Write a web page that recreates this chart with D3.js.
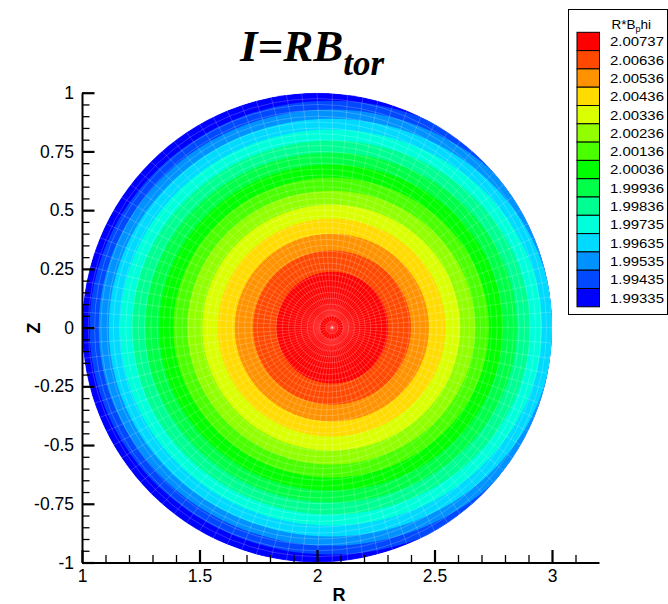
<!DOCTYPE html>
<html>
<head>
<meta charset="utf-8">
<script src="https://cdn.jsdelivr.net/npm/d3@7"></script>
<style>
  html, body { margin: 0; padding: 0; background: #ffffff; }
  svg { display: block; }
  text { font-family: "Liberation Sans", Arial, sans-serif; }
</style>
</head>
<body>
<script>
// Contour levels of R*B_phi, highest first (legend order)
const levels = [2.00737, 2.00636, 2.00536, 2.00436, 2.00336, 2.00236, 2.00136,
                2.00036, 1.99936, 1.99836, 1.99735, 1.99635, 1.99535, 1.99435, 1.99335];

// Iso-contour geometry for levels[0..13]: centre (R) and half extents in R and Z
const contourCenterR   = [2.065, 2.064, 2.063, 2.062, 2.061, 2.060, 2.060,
                          2.060, 2.060, 2.060, 2.060, 2.059, 2.058, 2.058];
const contourHalfWidth = [0.238, 0.336, 0.413, 0.485, 0.549, 0.613, 0.672,
                          0.732, 0.791, 0.847, 0.898, 0.945, 0.987, 1.026];
const contourHalfHeight = [0.238, 0.328, 0.400, 0.464, 0.524, 0.583, 0.639,
                           0.694, 0.745, 0.796, 0.843, 0.889, 0.928, 0.966];

// Circular poloidal cross-section
const sectionR = [1, 3];
const sectionZ = [-1, 1];
const magneticAxisR = 2.065;

// Axis ticks
const xMajorTicks = [1, 1.5, 2, 2.5, 3];
const xTickLabels = ["1", "1.5", "2", "2.5", "3"];
const yMajorTicks = [-1, -0.75, -0.5, -0.25, 0, 0.25, 0.5, 0.75, 1];
const yTickLabels = ["-1", "-0.75", "-0.5", "-0.25", "0", "0.25", "0.5", "0.75", "1"];

const W = 668, H = 604;
const svg = d3.select("body").append("svg").attr("width", W).attr("height", H);

const x = d3.scaleLinear().domain([1, 3.2]).range([82, 599]);
const y = d3.scaleLinear().domain([-1, 1]).range([562.5, 92.7]);

// Rainbow colour map: blue - cyan - green - yellow - red
const vMin = d3.min(levels), vMax = d3.max(levels);
const color = d3.scaleLinear()
  .domain([0, 0.25, 0.5, 0.75, 1].map(t => vMin + t * (vMax - vMin)))
  .range(["#0000ff", "#00ffff", "#00ff00", "#ffff00", "#ff0000"])
  .interpolate(d3.interpolateRgb);

// Section outline used as clip region
const secCR = (sectionR[0] + sectionR[1]) / 2;
const secR = (sectionR[1] - sectionR[0]) / 2;
const secZ = (sectionZ[1] - sectionZ[0]) / 2;
const defs = svg.append("defs");
defs.append("clipPath").attr("id", "section")
  .append("ellipse")
  .attr("cx", x(secCR)).attr("cy", y(0))
  .attr("rx", x(secCR + secR) - x(secCR)).attr("ry", y(0) - y(secZ));

const plot = svg.append("g").attr("clip-path", "url(#section)");

// Lowest band fills the whole section
plot.append("ellipse")
  .attr("cx", x(secCR)).attr("cy", y(0))
  .attr("rx", x(secCR + secR) - x(secCR)).attr("ry", y(0) - y(secZ))
  .attr("fill", color(levels[levels.length - 1]));

// Flooded bands, outermost contour first
const bands = d3.range(contourHalfWidth.length).reverse();
plot.selectAll("ellipse.band").data(bands).join("ellipse")
  .attr("class", "band")
  .attr("cx", i => x(contourCenterR[i]))
  .attr("cy", y(0))
  .attr("rx", i => x(contourCenterR[i] + contourHalfWidth[i]) - x(contourCenterR[i]))
  .attr("ry", i => y(0) - y(contourHalfHeight[i]))
  .attr("fill", i => color(levels[i]));

// Computational mesh: shifted rings from the magnetic axis to the wall, and spokes
const meshRings = 40, meshSpokes = 96;
const ringCenter = s => secCR + (magneticAxisR - secCR) * (1 - s);
const mesh = plot.append("g")
  .attr("fill", "none").attr("stroke", "#ffffff")
  .attr("stroke-opacity", 0.28).attr("stroke-width", 0.7);
mesh.selectAll("ellipse").data(d3.range(1, meshRings + 1).map(j => j / meshRings)).join("ellipse")
  .attr("cx", s => x(ringCenter(s))).attr("cy", y(0))
  .attr("rx", s => x(ringCenter(s) + s * secR) - x(ringCenter(s)))
  .attr("ry", s => y(0) - y(s * secZ));
const s0 = 2 / meshRings;
mesh.selectAll("line").data(d3.range(meshSpokes).map(k => 2 * Math.PI * k / meshSpokes)).join("line")
  .attr("x1", t => x(ringCenter(s0) + s0 * secR * Math.cos(t)))
  .attr("y1", t => y(s0 * secZ * Math.sin(t)))
  .attr("x2", t => x(secCR + secR * Math.cos(t)))
  .attr("y2", t => y(secZ * Math.sin(t)));
// inner spokes near the axis are coarser
mesh.selectAll("line.inner").data(d3.range(0, meshSpokes, 4).map(k => 2 * Math.PI * k / meshSpokes)).join("line")
  .attr("class", "inner")
  .attr("x1", x(magneticAxisR)).attr("y1", y(0))
  .attr("x2", t => x(ringCenter(s0) + s0 * secR * Math.cos(t)))
  .attr("y2", t => y(s0 * secZ * Math.sin(t)));

// Axes
function styleAxis(g, w) {
  g.select(".domain").attr("stroke", "#000").attr("stroke-width", 2);
  g.selectAll(".tick line").attr("stroke", "#000").attr("stroke-width", w);
  g.selectAll(".tick text").attr("fill", "#000")
    .style("font-family", "'Liberation Sans', Arial, sans-serif").style("font-size", "17.5px");
}
const xMinor = d3.range(11, 32).map(v => v / 10).filter(v => !xMajorTicks.some(m => Math.abs(m - v) < 1e-9));
const yMinor = d3.range(-20, 21).map(v => v / 20).filter(v => !yMajorTicks.some(m => Math.abs(m - v) < 1e-9));

const gxm = svg.append("g").attr("transform", `translate(0,${y(-1)})`)
  .call(d3.axisBottom(x).tickValues(xMinor).tickSize(-7.5).tickSizeOuter(0).tickFormat(""));
gxm.select(".domain").remove();
styleAxis(gxm, 1.3);
const gym = svg.append("g").attr("transform", `translate(${x(1)},0)`)
  .call(d3.axisLeft(y).tickValues(yMinor).tickSize(-7.5).tickSizeOuter(0).tickFormat(""));
gym.select(".domain").remove();
styleAxis(gym, 1.3);

const gx = svg.append("g").attr("transform", `translate(0,${y(-1)})`)
  .call(d3.axisBottom(x).tickValues(xMajorTicks).tickSize(-12.5).tickSizeOuter(0)
        .tickPadding(7.5).tickFormat((d, i) => xTickLabels[i]));
styleAxis(gx, 2.2);
const gy = svg.append("g").attr("transform", `translate(${x(1)},0)`)
  .call(d3.axisLeft(y).tickValues(yMajorTicks).tickSize(-12.5).tickSizeOuter(0)
        .tickPadding(8).tickFormat((d, i) => yTickLabels[i]));
styleAxis(gy, 2.2);

// Axis titles
svg.append("text").attr("x", 339).attr("y", 601)
  .attr("text-anchor", "middle").style("font-size", "18px").style("font-weight", "bold").text("R");
svg.append("text").attr("transform", "translate(40,328) rotate(-90)")
  .attr("text-anchor", "middle").style("font-size", "18px").style("font-weight", "bold").text("Z");

// Title
const title = svg.append("text").attr("x", 240).attr("y", 61)
  .style("font-family", "'Liberation Serif', 'Times New Roman', serif")
  .style("font-weight", "bold").style("font-style", "italic").style("font-size", "45px");
title.append("tspan").text("I=RB");
title.append("tspan").attr("dy", 14).style("font-size", "35px").text("tor");

// Legend
const lg = svg.append("g");
lg.append("rect").attr("x", 568.5).attr("y", 9.5).attr("width", 99).attr("height", 305)
  .attr("fill", "#fff").attr("stroke", "#000").attr("stroke-width", 1);
const lt = lg.append("text").attr("x", 611.5).attr("y", 28.5).style("font-size", "13.5px");
lt.append("tspan").text("R*B");
lt.append("tspan").attr("dy", 3).style("font-size", "9px").text("p");
lt.append("tspan").attr("dy", -3).text("hi");

const rowH = 18.3, rowTop = 32.3;
const rows = lg.selectAll("g.row").data(levels).join("g").attr("class", "row")
  .attr("transform", (d, i) => `translate(0,${rowTop + i * rowH})`);
rows.append("rect").attr("x", 577).attr("y", 0).attr("width", 22.5).attr("height", rowH)
  .attr("fill", d => color(d)).attr("stroke", "#000").attr("stroke-width", 1);
rows.append("text").attr("x", 610).attr("y", rowH / 2).attr("dy", "0.36em")
  .attr("textLength", 54).attr("lengthAdjust", "spacingAndGlyphs")
  .style("font-size", "13.5px").text(d => d.toFixed(5));
</script>
</body>
</html>
